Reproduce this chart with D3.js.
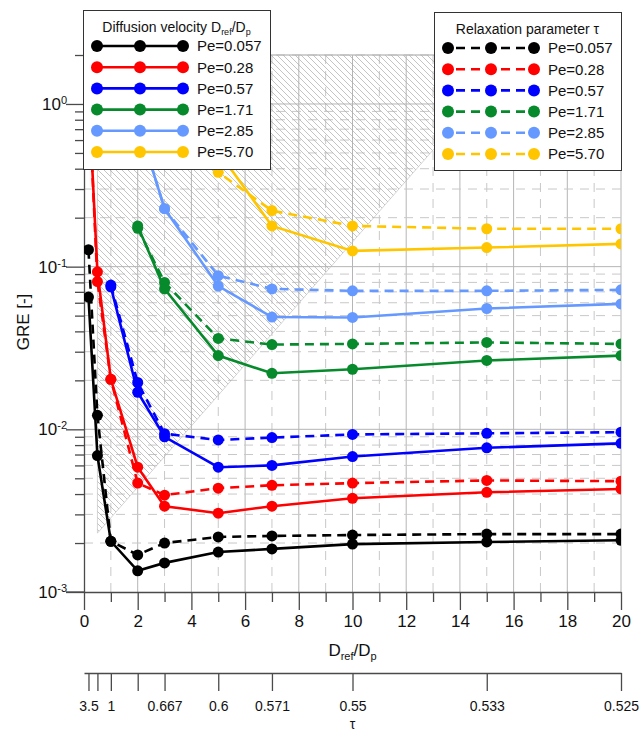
<!DOCTYPE html>
<html><head><meta charset="utf-8">
<script src="https://cdn.jsdelivr.net/npm/d3@7"></script>
<style>body{margin:0;background:#fff}svg{display:block;font-family:"Liberation Sans",Arial,sans-serif}</style>
</head><body><svg id="c" width="640" height="732"></svg>
<script>
// ---------- data ----------
const xValues = [1/6, 0.5, 1, 2, 3, 5, 7, 10, 15, 20];
const tauLabels = ["3.5", "", "1", "", "0.667", "0.6", "0.571", "0.55", "0.533", "0.525"];
const peLabels = ["Pe=0.057", "Pe=0.28", "Pe=0.57", "Pe=1.71", "Pe=2.85", "Pe=5.70"];
const seriesColors = ["#000000", "#ff0000", "#0000ff", "#078a2c", "#6699ff", "#ffc600"];
const xTicks = [0, 2, 4, 6, 8, 10, 12, 14, 16, 18, 20];
const yDecades = [1e-3, 1e-2, 1e-1, 1e0];
// Diffusion velocity Dref/Dp (solid lines), null = no point
const diff0057 = [0.065, 6.9e-3, 2.05e-3, 1.35e-3, 1.51e-3, 1.76e-3, 1.84e-3, 1.97e-3, 2.03e-3, 2.08e-3];
const diff028  = [1.2, 0.093, 0.0203, 5.85e-3, 3.37e-3, 3.05e-3, 3.37e-3, 3.77e-3, 4.1e-3, 4.3e-3];
const diff057  = [null, null, 0.075, 0.0169, 9.0e-3, 5.85e-3, 6.0e-3, 6.8e-3, 7.7e-3, 8.2e-3];
const diff171  = [null, null, null, 0.178, 0.073, 0.0284, 0.0221, 0.0234, 0.0265, 0.0284];
const diff285  = [null, null, null, 0.78, 0.227, 0.076, 0.049, 0.0487, 0.0553, 0.059];
const diff570  = [null, null, null, null, 1.5, 0.51, 0.178, 0.125, 0.131, 0.138];
// Relaxation parameter tau (dashed lines)
const relax0057 = [0.127, 0.0122, 2.05e-3, 1.69e-3, 2.0e-3, 2.18e-3, 2.21e-3, 2.24e-3, 2.27e-3, 2.27e-3];
const relax028  = [1.25, 0.081, 0.0203, 4.67e-3, 3.94e-3, 4.35e-3, 4.53e-3, 4.67e-3, 4.85e-3, 4.8e-3];
const relax057  = [null, null, 0.077, 0.0194, 9.4e-3, 8.6e-3, 8.9e-3, 9.3e-3, 9.45e-3, 9.6e-3];
const relax171  = [null, null, null, 0.172, 0.080, 0.0362, 0.0332, 0.0335, 0.0342, 0.0335];
const relax285  = [null, null, null, 0.78, 0.227, 0.088, 0.073, 0.071, 0.071, 0.072];
const relax570  = [null, null, null, null, 1.2, 0.38, 0.221, 0.178, 0.171, 0.171];
// hatched region (data coordinates)
const hatchX = [0.5, 16.1, 0.5];
const hatchY = [2, 2, 2.3e-3];

const diffSeries = [diff0057, diff028, diff057, diff171, diff285, diff570];
const relaxSeries = [relax0057, relax028, relax057, relax171, relax285, relax570];

// ---------- chart ----------
const svg = d3.select("#c");
const L = 84, R = 621, T = 55, B = 592;
const x = d3.scaleLinear().domain([0, 20]).range([L, R]);
const y = d3.scaleLog().domain([1e-3, 2]).range([B, T]);

const defs = svg.append("defs");
defs.append("clipPath").attr("id", "clip").append("rect")
  .attr("x", L).attr("y", T).attr("width", R - L).attr("height", B - T);
const pat = defs.append("pattern").attr("id", "hatch").attr("patternUnits", "userSpaceOnUse")
  .attr("width", 6).attr("height", 6);
pat.append("path").attr("d", "M0,0L6,6M-1,5L1,7M5,-1L7,1")
  .attr("stroke", "#ababab").attr("stroke-width", 0.7).attr("fill", "none");

// grid
const grid = svg.append("g");
const minorY = [];
yDecades.forEach(d => { for (let k = 2; k <= 9; k++) if (d * k <= 2) minorY.push(d * k); });
grid.selectAll(".gxm").data(d3.range(1, 21)).join("line")
  .attr("x1", d => x(d)).attr("x2", d => x(d)).attr("y1", T).attr("y2", B)
  .attr("stroke", d => d % 2 === 0 ? "#b5b5b5" : "#c8c8c8")
  .attr("stroke-width", 1)
  .attr("stroke-dasharray", d => d % 2 === 0 ? null : "9,7");
grid.selectAll(".gym").data(minorY).join("line")
  .attr("x1", L).attr("x2", R).attr("y1", d => y(d)).attr("y2", d => y(d))
  .attr("stroke", "#c8c8c8").attr("stroke-dasharray", "9,7");
grid.selectAll(".gyd").data(yDecades.slice(1)).join("line")
  .attr("x1", L).attr("x2", R).attr("y1", d => y(d)).attr("y2", d => y(d))
  .attr("stroke", "#b5b5b5");
grid.append("line").attr("x1", L).attr("x2", R).attr("y1", T).attr("y2", T).attr("stroke", "#b5b5b5");

// hatch
const hatchPts = hatchX.map((v, i) => [x(v), y(hatchY[i])]);
svg.append("path").attr("d", "M" + hatchPts.join("L") + "Z")
  .attr("fill", "url(#hatch)").attr("stroke", "#b8b8b8").attr("stroke-width", 0.6);

// axes
const axisColor = "#4a4a4a";
function styleAxis(g) {
  g.select(".domain").attr("stroke", axisColor).attr("stroke-width", 1.3);
  g.selectAll(".tick line").attr("stroke", axisColor).attr("stroke-width", 1.3);
  g.selectAll("text").attr("fill", "#111");
}
const xMaj = svg.append("g").attr("transform", `translate(0,${B})`)
  .call(d3.axisBottom(x).tickValues(xTicks).tickSize(18).tickSizeOuter(0).tickPadding(5).tickFormat(d3.format("d")))
  .attr("font-size", 17).attr("font-family", null);
styleAxis(xMaj);
const xMin = svg.append("g").attr("transform", `translate(0,${B})`)
  .call(d3.axisBottom(x).tickValues(d3.range(1, 20, 2)).tickSize(10).tickFormat(""));
xMin.select(".domain").remove(); styleAxis(xMin);
svg.append("line").attr("x1", 66).attr("x2", L).attr("y1", B).attr("y2", B).attr("stroke", axisColor).attr("stroke-width", 1.3);

const yMaj = svg.append("g").attr("transform", `translate(${L},0)`)
  .call(d3.axisLeft(y).tickValues(yDecades).tickSize(18).tickSizeOuter(0).tickPadding(4).tickFormat(""))
  .attr("font-size", 17).attr("font-family", null);
styleAxis(yMaj);
yMaj.selectAll(".tick").append("text")
  .attr("x", -17).attr("dy", "0.32em").attr("text-anchor", "end").attr("fill", "#111")
  .each(function (d) {
    const t = d3.select(this);
    t.append("tspan").text("10");
    t.append("tspan").attr("dy", "-0.55em").attr("font-size", 11).text(Math.round(Math.log10(d)));
  });
const yMin = svg.append("g").attr("transform", `translate(${L},0)`)
  .call(d3.axisLeft(y).tickValues(minorY).tickSize(9).tickFormat(""));
yMin.select(".domain").remove(); styleAxis(yMin);

svg.append("text").attr("transform", "translate(29,322) rotate(-90)")
  .attr("text-anchor", "middle").attr("font-size", 17).attr("fill", "#111").text("GRE [-]");

const xt = svg.append("text").attr("x", x(10)).attr("y", 656).attr("text-anchor", "middle")
  .attr("font-size", 17).attr("fill", "#111");
xt.append("tspan").text("D");
xt.append("tspan").attr("font-size", 11).attr("dy", 4).text("ref");
xt.append("tspan").attr("dy", -4).text("/D");
xt.append("tspan").attr("font-size", 11).attr("dy", 4).text("p");

// tau axis
const tauAxis = svg.append("g").attr("transform", "translate(0,673)")
  .call(d3.axisBottom(x).tickValues(xValues).tickSize(18).tickSizeOuter(0).tickPadding(10)
    .tickFormat((d, i) => tauLabels[i]))
  .attr("font-size", 14).attr("font-family", null);
styleAxis(tauAxis);
svg.append("text").attr("x", x(10)).attr("y", 729).attr("text-anchor", "middle")
  .attr("font-size", 14).attr("fill", "#111").text("τ");

// data
const plot = svg.append("g").attr("clip-path", "url(#clip)");
const line = d3.line().defined(d => d[1] != null).x(d => x(d[0])).y(d => y(d[1]));
function drawSeries(vals, color, dashed) {
  const pts = xValues.map((xv, i) => [xv, vals[i]]);
  plot.append("path").datum(pts).attr("d", line).attr("fill", "none")
    .attr("stroke", color).attr("stroke-width", 2.6)
    .attr("stroke-dasharray", dashed ? "9,6" : null);
  plot.append("g").selectAll("circle").data(pts.filter(d => d[1] != null)).join("circle")
    .attr("cx", d => x(d[0])).attr("cy", d => y(d[1])).attr("r", 5.5).attr("fill", color);
}
relaxSeries.forEach((s, i) => drawSeries(s, seriesColors[i], true));
diffSeries.forEach((s, i) => drawSeries(s, seriesColors[i], false));

// legends
function legend(x0, y0, w, h, titleFn, rowY0, dashed) {
  const g = svg.append("g");
  g.append("rect").attr("x", x0 + 0.5).attr("y", y0 + 0.5).attr("width", w).attr("height", h)
    .attr("fill", "#fff").attr("stroke", "#333").attr("stroke-width", 1);
  const t = g.append("text").attr("x", x0 + w / 2).attr("y", y0 + 22).attr("text-anchor", "middle")
    .attr("font-size", 14).attr("fill", "#111");
  titleFn(t);
  peLabels.forEach((lab, i) => {
    const yy = rowY0 + i * 21.2;
    const lx1 = x0 + 14, lx2 = x0 + 100;
    g.append("line").attr("x1", lx1).attr("x2", lx2).attr("y1", yy).attr("y2", yy)
      .attr("stroke", seriesColors[i]).attr("stroke-width", 2.6)
      .attr("stroke-dasharray", dashed ? "9,6" : null)
      .attr("stroke-dashoffset", dashed ? -8 : null);
    [lx1, (lx1 + lx2) / 2, lx2].forEach(cx => g.append("circle").attr("cx", cx).attr("cy", yy)
      .attr("r", 6).attr("fill", seriesColors[i]));
    g.append("text").attr("x", x0 + 114).attr("y", yy).attr("dy", "0.36em")
      .attr("font-size", 15).attr("fill", "#111").text(lab);
  });
}
legend(83, 10, 187, 159, t => {
  t.append("tspan").text("Diffusion velocity D");
  t.append("tspan").attr("font-size", 9).attr("dy", 3).text("ref");
  t.append("tspan").attr("dy", -3).text("/D");
  t.append("tspan").attr("font-size", 9).attr("dy", 3).text("p");
}, 46, false);
legend(434, 12, 187, 158, t => t.text("Relaxation parameter τ"), 48, true);
</script></body></html>
